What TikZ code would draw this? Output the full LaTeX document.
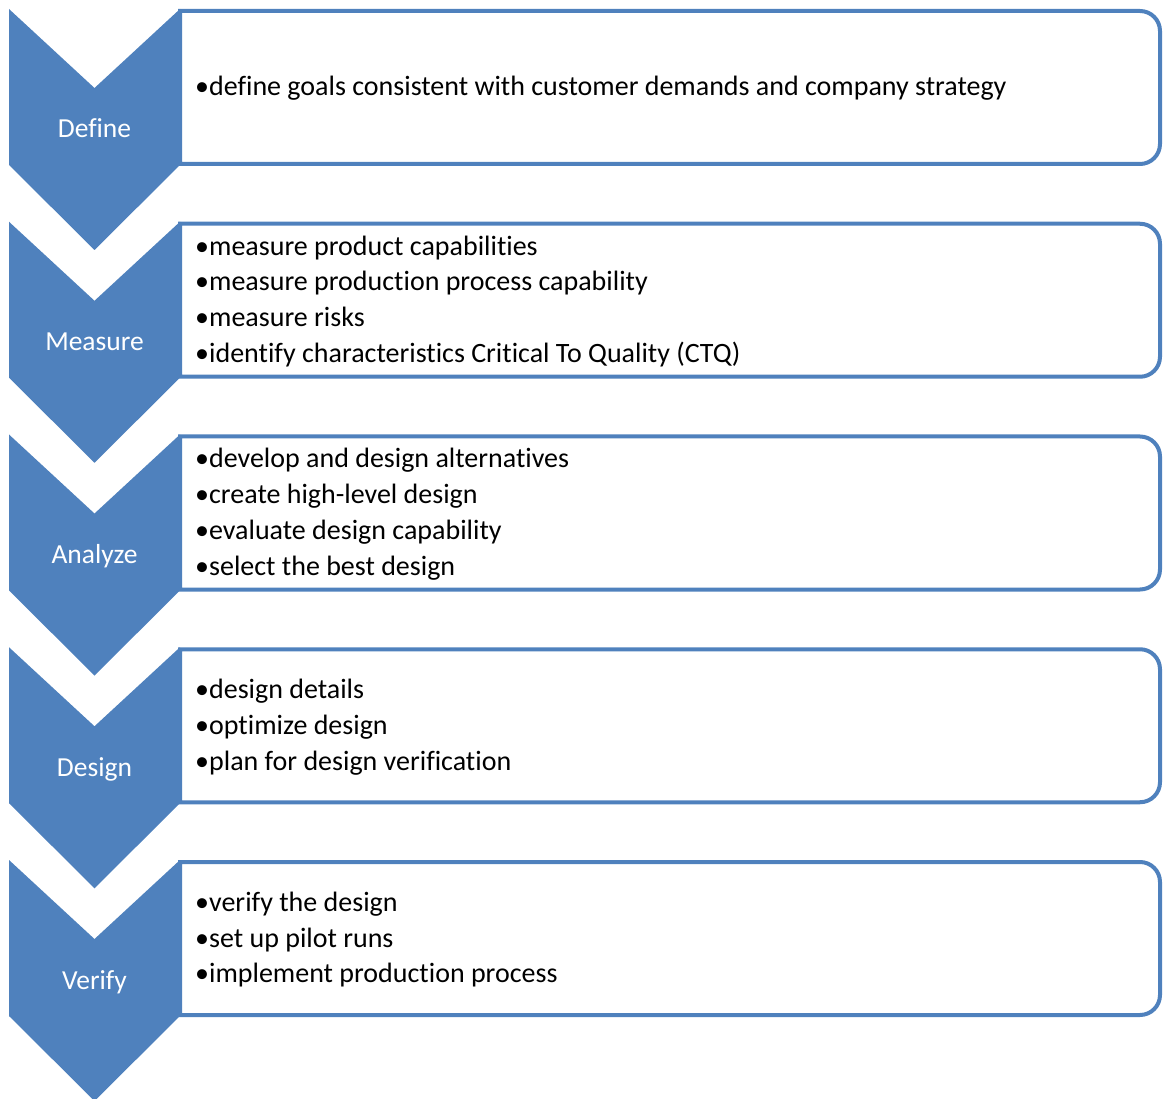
\documentclass[tikz,border=0pt]{standalone}
\usepackage{fontspec}
\setmainfont{Carlito}[Ligatures={NoCommon}]
\definecolor{accent}{HTML}{4F81BD}
\begin{document}
\begin{tikzpicture}[x=1pt,y=-1pt,
  chev/.style={fill=accent,draw=none},
  listbox/.style={draw=accent,line width=4pt,fill=white},
  lbl/.style={text=white,anchor=base,inner sep=0pt,font=\fontsize{27.5}{32}\selectfont},
  item/.style={anchor=base west,inner sep=0pt,font=\fontsize{28}{36}\selectfont}]
\useasboundingbox (0,0) rectangle (1163,1099);
% boxes (drawn first, chevrons cover their left edges)
\foreach \T/\n in {9/b1,221.75/b2,434.5/b3,647.25/b4,860/b5}{
  \draw[listbox] (180,\T+2) -- (1140,\T+2) arc[start angle=-90,end angle=0,radius=20]
    -- (1160,\T+135) arc[start angle=0,end angle=90,radius=20] -- (180,\T+155) -- cycle;
}
% chevrons
\foreach \T in {9,221.75,434.5,647.25,860}{
  \fill[chev] (9,\T) -- (94.5,\T+79) -- (180,\T) -- (180,\T+156) -- (94.5,\T+241) -- (9,\T+156) -- cycle;
}
% labels
\node[lbl] (l1) at (94.5,9+129) {Define};
\node[lbl] (l2) at (94.5,221.75+129) {Measure};
\node[lbl] (l3) at (94.5,434.5+129) {Analyze};
\node[lbl] (l4) at (94.5,647.25+129) {Design};
\node[lbl] (l5) at (94.5,860+129) {Verify};
% items
\node[item] (d1) at (195,9+87) {•define goals consistent with customer demands and company strategy};
\node[item] (m1) at (195,221.75+33.4) {•measure product capabilities};
\node[item] (m2) at (195,221.75+69.1) {•measure production process capability};
\node[item] (m3) at (195,221.75+104.9) {•measure risks};
\node[item] (m4) at (195,221.75+140.6) {•identify characteristics Critical To Quality (CTQ)};
\node[item] (a1) at (195,434.5+33.4) {•develop and design alternatives};
\node[item] (a2) at (195,434.5+69.1) {•create high-level design};
\node[item] (a3) at (195,434.5+104.9) {•evaluate design capability};
\node[item] (a4) at (195,434.5+140.6) {•select the best design};
\node[item] (g1) at (195,647.25+51.25) {•design details};
\node[item] (g2) at (195,647.25+87) {•optimize design};
\node[item] (g3) at (195,647.25+122.75) {•plan for design verification};
\node[item] (v1) at (195,860+51.25) {•verify the design};
\node[item] (v2) at (195,860+87) {•set up pilot runs};
\node[item] (v3) at (195,860+122.75) {•implement production process};
\end{tikzpicture}
\end{document}
